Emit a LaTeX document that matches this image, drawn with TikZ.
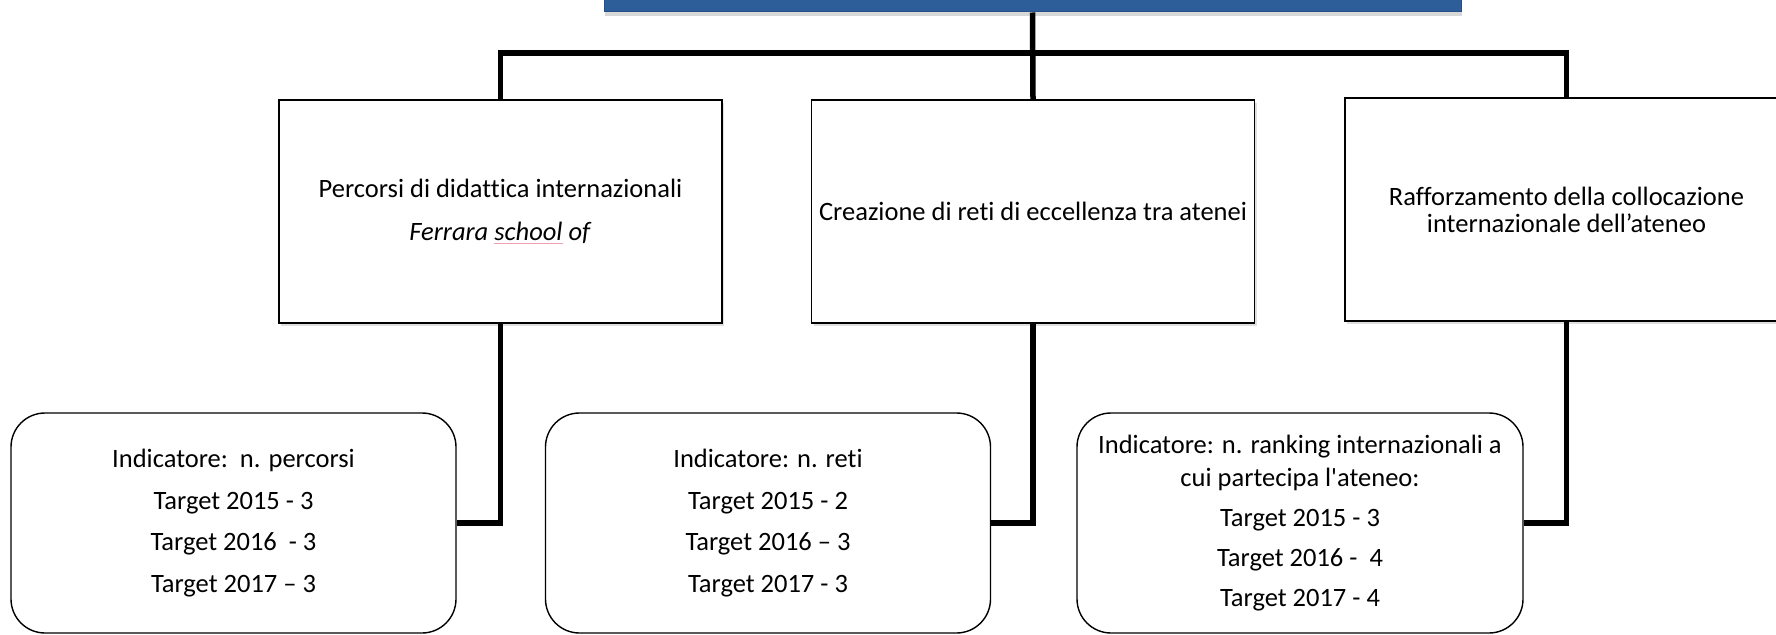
\documentclass[tikz,border=0pt]{standalone}
\usepackage{fontspec}
\setmainfont{Carlito}[Ligatures={NoCommon}]
\usetikzlibrary{shadows}
\definecolor{topblue}{RGB}{46,94,154}
\definecolor{topedge}{RGB}{40,80,135}
\definecolor{spell}{RGB}{240,160,170}
\newcommand{\spellmark}[1]{{\setbox0\hbox{#1}\rlap{\color{spell}\rule[-4pt]{\wd0}{0.8pt}}\box0}}
\begin{document}
\begin{tikzpicture}[x=1pt,y=-1pt,
  txt/.style={font=\fontsize{26.5}{32}\selectfont, align=center, text=black},
  goalbox/.style={txt, draw=black, line width=1.4pt, fill=white, inner sep=0pt,
    minimum width=443pt, minimum height=223pt,
    drop shadow={opacity=0.25, shadow xshift=2pt, shadow yshift=-3pt}},
  indbox/.style={txt, draw=black, line width=1.4pt, fill=white, rounded corners=34pt,
    inner sep=0pt, minimum width=445pt, minimum height=220pt},
  conn/.style={line width=5.5pt, black}
]
\useasboundingbox (0,0) rectangle (1776,634);
\clip (0,0) rectangle (1776,634);
\fill[white] (0,0) rectangle (1776,634);

% top blue box (mostly above the picture)
\node[draw=topedge, fill=topblue, line width=1pt, minimum width=857pt, minimum height=80pt,
  inner sep=0pt, drop shadow={opacity=0.3, shadow xshift=1pt, shadow yshift=-4pt}]
  (top) at (1032.5,-28) {};

\coordinate (hub) at (1033,53);

% goal boxes
\node[goalbox] (b1) at (500.5,211.5) {Percorsi di didattica internazionali\\[11pt]\textit{Ferrara \spellmark{school} of}};
\node[goalbox] (b2) at (1033,211.5) {Creazione di reti di eccellenza tra atenei};
\node[goalbox, font=\fontsize{26.5}{27}\selectfont] (b3) at (1566.5,209.5) {Rafforzamento della collocazione\\internazionale dell’ateneo};

% indicator boxes
\node[indbox] (r1) at (233.5,523) {Indicatore:\ \ n. percorsi\\[9.5pt]Target 2015 - 3\\[9.5pt]Target 2016\ \ - 3\\[9.5pt]Target 2017 – 3};
\node[indbox] (r2) at (768,523) {Indicatore: n. reti\\[9.5pt]Target 2015 - 2\\[9.5pt]Target 2016 – 3\\[9.5pt]Target 2017 - 3};
\node[indbox, minimum width=446pt] (r3) at (1300,523) {Indicatore: n. ranking internazionali a\\[1pt]cui partecipa l\textquotesingle ateneo:\\[8pt]Target 2015 - 3\\[8pt]Target 2016 -\ \ 4\\[8pt]Target 2017 - 4};

% connectors
\draw[conn] (top.south) -- (b2.north);
\draw[conn] (b1.north) -- (b1.north |- hub) -| (b3.north);
\draw[conn] (b1.south) |- (r1.east);
\draw[conn] (b2.south) |- (r2.east);
\draw[conn] (b3.south) |- (r3.east);
\end{tikzpicture}
\end{document}
